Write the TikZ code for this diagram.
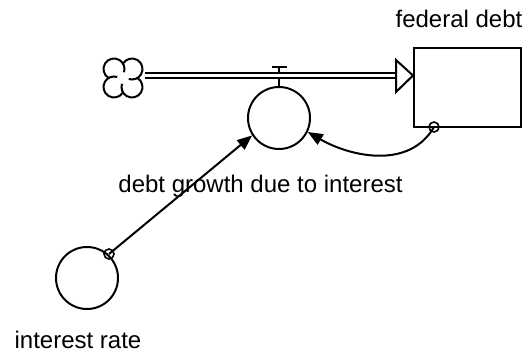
\documentclass[tikz,border=0pt]{standalone}
\usepackage{fontspec}
\setmainfont{Liberation Sans}
\usetikzlibrary{arrows.meta}
\begin{document}
\begin{tikzpicture}[x=1pt,y=1pt,
  lw/.style={line width=2pt},
  aux/.style={circle,draw,lw,minimum size=62pt,inner sep=0pt},
  dot/.style={circle,draw,line width=1.6pt,minimum size=10pt,inner sep=0pt},
  lbl/.style={font=\fontsize{24}{28}\selectfont,inner sep=0pt,anchor=base},
  link/.style={lw,-{Triangle[length=15pt,width=12pt]}}]
\useasboundingbox (0,0) rectangle (526,354);
% stock
\node[draw,lw,minimum width=107pt,minimum height=79pt,inner sep=0pt] (stock) at (467.5,266.5) {};
\node[lbl] (stocklbl) at (459,326) {federal debt};
% auxiliaries
\node[aux] (valve) at (279,236) {};
\node[lbl] (valvelbl) at (260.5,162) {debt growth due to interest};
\node[aux] (rate) at (87,76) {};
\node[lbl] (ratelbl) at (78,6) {interest rate};
% valve handle
\coordinate (tl) at (272,287);
\coordinate (tr) at (287,287);
\coordinate (tm) at (279,287);
\draw[lw] (tl) -- (tr);
\draw[lw] (tm) -- (valve.north);
% cloud
\begin{scope}[shift={(123,276)}]
\foreach \a in {0,90,180,270}
  \draw[lw,rotate=\a] (0,14.4) arc[start angle=149,end angle=-108,radius=10.5];
\end{scope}
% pipe
\coordinate (pipeS) at (145,278.5);
\coordinate (pipeE) at (397,278.5);
\draw[lw,double distance=3pt] (pipeS) -- (pipeE);
\draw[lw,fill=white,line join=miter] (396,294) -- (413,278.5) -- (396,262) -- cycle;
% links
\node[dot] (rdot) at (109,100) {};
\draw[link] (rdot.center) -- (valve.213);
\node[dot] (sdot) at (434,227) {};
\draw[link] (sdot.center) to[out=-120,in=-30] (valve.-26);
\end{tikzpicture}
\end{document}
